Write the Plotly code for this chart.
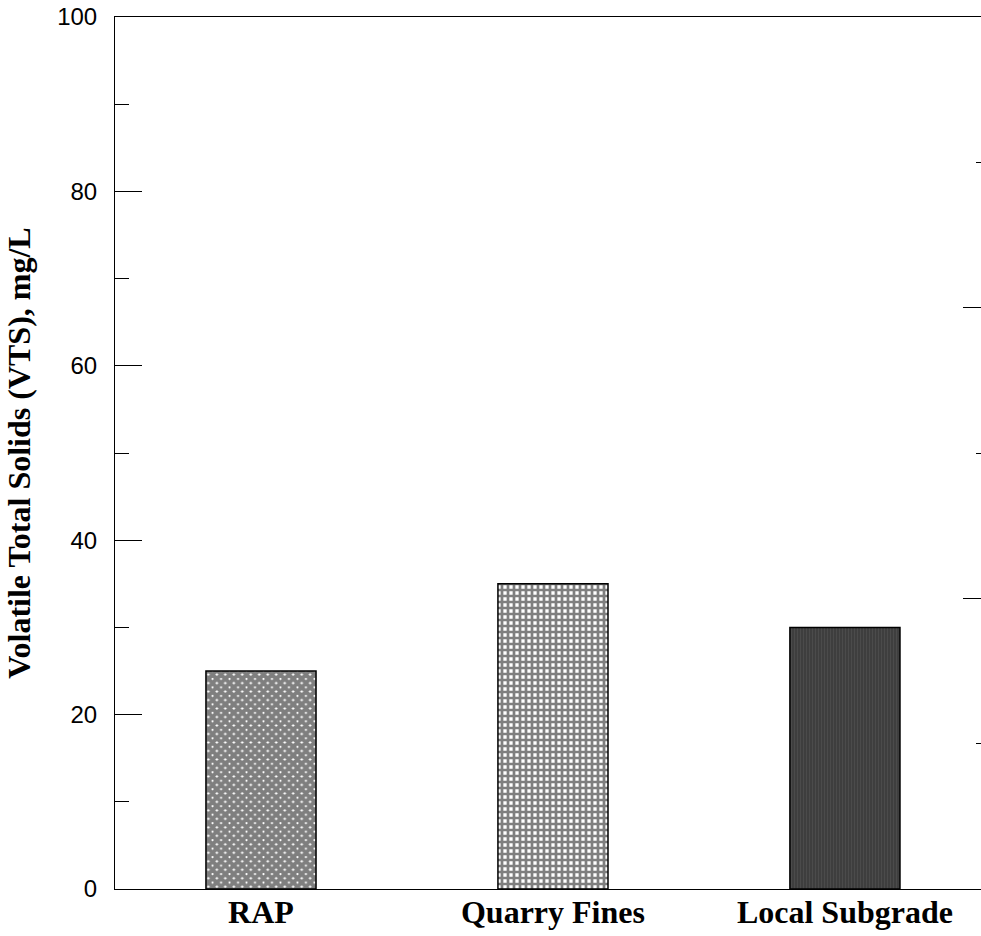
import plotly.graph_objects as go

categories = ["RAP", "Quarry Fines", "Local Subgrade"]
vts_values = [25, 35, 30]
y_ticks = [0, 20, 40, 60, 80, 100]
y_title = "Volatile Total Solids (VTS), mg/L"

patterns = [
    dict(shape="x", size=6, solidity=0.9, fgcolor="black", bgcolor="white"),
    dict(shape="+", size=6, solidity=0.7, fgcolor="black", bgcolor="white"),
    dict(shape="|", size=3, solidity=0.4, fgcolor="#5a5a5a", bgcolor="#3c3c3c"),
]

fig = go.Figure()
for i, (cat, val) in enumerate(zip(categories, vts_values)):
    fig.add_trace(go.Bar(
        x=[i], y=[val], width=0.377,
        marker=dict(color="white", pattern=patterns[i],
                    line=dict(color="black", width=1.5)),
        showlegend=False, hoverinfo="skip",
    ))

# invisible trace to anchor the secondary (right) axis
fig.add_trace(go.Scatter(x=[], y=[], yaxis="y2", showlegend=False))

fig.update_layout(
    width=981, height=936,
    margin=dict(l=115, r=0, t=17, b=47),
    paper_bgcolor="white", plot_bgcolor="white",
    font=dict(family="Liberation Sans", color="black"),
    xaxis=dict(
        range=[-0.5, 2.466], automargin=False,
        tickmode="array", tickvals=[0, 1, 2], ticktext=categories,
        tickfont=dict(family="Liberation Serif", size=32, color="black", weight="bold"),
        showline=True, linecolor="black", linewidth=1, mirror=True,
        ticks="", showgrid=False, zeroline=False,
        ticklabelstandoff=-5,
    ),
    yaxis=dict(
        range=[0, 100], automargin=False,
        tickmode="array", tickvals=y_ticks,
        tickfont=dict(family="Liberation Sans", size=24, color="black"),
        ticks="inside", ticklen=27, tickwidth=1, tickcolor="black",
        minor=dict(ticks="inside", ticklen=14, tickwidth=1, tickcolor="black", dtick=10, showgrid=False),
        showline=True, linecolor="black", linewidth=1,
        showgrid=False, zeroline=False,
        ticklabelstandoff=12,
        title=dict(text=y_title + "\u00a0\u00a0\u00a0", standoff=16,
                   font=dict(family="Liberation Serif", size=32, color="black", weight="bold")),
    ),
    yaxis2=dict(
        overlaying="y", side="right", range=[0, 30],
        tickmode="linear", tick0=0, dtick=10,
        ticks="inside", ticklen=18, tickwidth=1, tickcolor="black",
        minor=dict(ticks="inside", ticklen=5, tickwidth=1, tickcolor="black", dtick=5, showgrid=False),
        showticklabels=False, showline=False, showgrid=False, zeroline=False,
    ),
    bargap=0.6,
)

fig.write_html("out.html", config={"displayModeBar": False},
               post_script="document.body.style.margin='0';document.body.style.overflow='hidden';")
